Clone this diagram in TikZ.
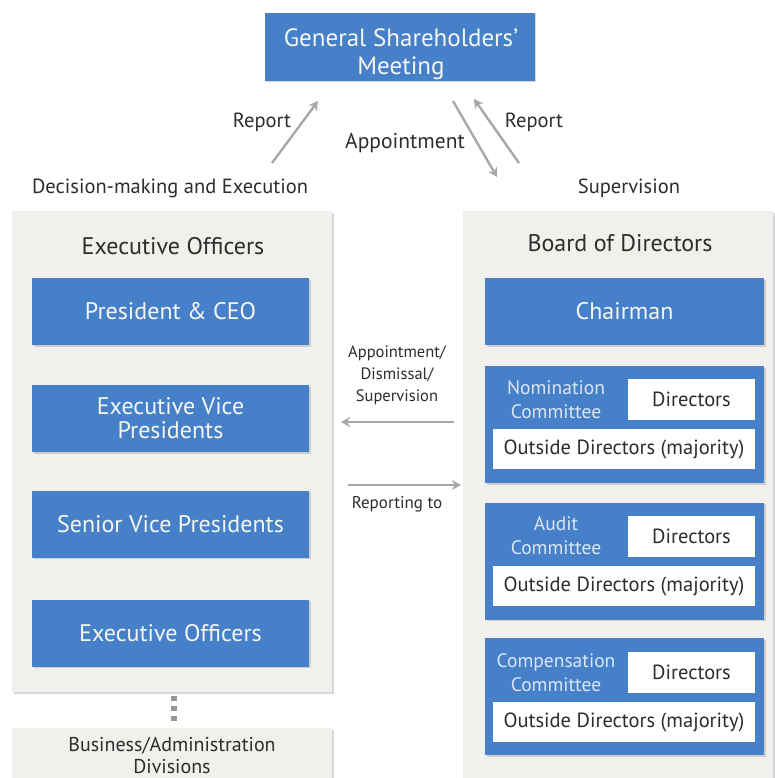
\documentclass[tikz,border=0pt]{standalone}
\usepackage{fontspec}
\setmainfont{PT Sans}
\usetikzlibrary{arrows.meta,shadows}
\definecolor{bluec}{RGB}{70,128,200}
\definecolor{panelc}{RGB}{242,240,236}
\definecolor{arrowc}{RGB}{168,168,168}
\definecolor{textc}{RGB}{45,45,45}
\definecolor{comtext}{RGB}{218,230,245}
\definecolor{boxtext}{RGB}{246,246,240}
\newcommand{\myfs}[2]{\fontsize{#1}{#2}\selectfont}
\begin{document}
\begin{tikzpicture}[x=1pt,y=-1pt,
  panel/.style={fill=panelc, draw=none, inner sep=0pt,
    drop shadow={shadow xshift=2pt, shadow yshift=-2pt, opacity=0.3, fill=black!50}},
  bluebox/.style={fill=bluec, draw=none, inner sep=0pt, text=boxtext, align=center,
    font=\myfs{24}{24},
    drop shadow={shadow xshift=1.5pt, shadow yshift=-1.5pt, opacity=0.3, fill=black!50}},
  whitebox/.style={fill=white, draw=none, inner sep=0pt, text=textc, align=center, font=\myfs{20.5}{22}},
  comlabel/.style={text=comtext, align=center, font=\myfs{19.5}{24}, inner sep=0pt},
  lbl/.style={text=textc, align=center, font=\myfs{20.5}{22}, inner sep=0pt},
  title/.style={text=textc, align=center, font=\myfs{24}{24}, inner sep=0pt},
  arr/.style={draw=arrowc, line width=2.4pt, -{Stealth[length=9pt,width=10pt]}},
  dots/.style={draw=arrowc!90!black, line width=6pt, dash pattern=on 5pt off 5pt}
]
\useasboundingbox (0,0) rectangle (775,778);
\fill[white] (0,0) rectangle (775,778);

% top
\node[bluebox, minimum width=270pt, minimum height=68pt] (gsm) at (399.5,47) {};
\node[text=boxtext, align=center, font=\myfs{25}{28}, inner sep=0pt] (gsmt) at (401,54) {General Shareholders'\\Meeting};

% panels
\node[panel, minimum width=320pt, minimum height=481pt] (lpanel) at (172,451.5) {};
\node[panel, minimum width=310pt, minimum height=580pt] (rpanel) at (618,501) {};
\node[panel, minimum width=320pt, minimum height=70pt] (bpanel) at (172,763) {};

\node[title] (lt) at (173,246) {Executive Officers};
\node[title] (rt) at (620,243) {Board of Directors};

\node[lbl] (dm) at (170,188) {Decision-making and Execution};
\node[lbl] (sup) at (629,188) {Supervision};

% left column
\node[bluebox, minimum width=277pt, minimum height=67pt] (pres) at (170.5,311.5) {President \& CEO};
\node[bluebox, minimum width=277pt, minimum height=67pt] (evp) at (170.5,418.5) {Executive Vice\\Presidents};
\node[bluebox, minimum width=277pt, minimum height=67pt] (svp) at (170.5,524) {Senior Vice Presidents};
\node[bluebox, minimum width=277pt, minimum height=67pt] (eo) at (170.5,633) {Executive Officers};

\node[lbl, font=\myfs{20}{22}] (bus) at (172,755.5) {Business/Administration\\Divisions};
\coordinate (d1) at (174,696);
\coordinate (d2) at (174,725);
\draw[dots] (d1) -- (d2);

% right column
\node[bluebox, minimum width=279pt, minimum height=67pt] (chair) at (624.5,311.5) {Chairman};

\node[bluebox, minimum width=279pt, minimum height=117pt] (nom) at (624.5,424.5) {};
\node[comlabel] (nomt) at (556,400) {Nomination\\Committee};
\node[whitebox, minimum width=127pt, minimum height=41pt] (nomd) at (691.5,399.5) {Directors};
\node[whitebox, minimum width=262pt, minimum height=40pt] (nomo) at (624,449) {Outside Directors (majority)};

\node[bluebox, minimum width=279pt, minimum height=117pt] (aud) at (624.5,561) {};
\node[comlabel] (audt) at (556,536) {Audit\\Committee};
\node[whitebox, minimum width=127pt, minimum height=41pt] (audd) at (691.5,536.5) {Directors};
\node[whitebox, minimum width=262pt, minimum height=40pt] (audo) at (624,586) {Outside Directors (majority)};

\node[bluebox, minimum width=279pt, minimum height=117pt] (comp) at (624.5,696.5) {};
\node[comlabel] (compt) at (556,672.5) {Compensation\\Committee};
\node[whitebox, minimum width=127pt, minimum height=41pt] (compd) at (691.5,672.5) {Directors};
\node[whitebox, minimum width=262pt, minimum height=40pt] (compo) at (624,722) {Outside Directors (majority)};

% top arrows
\coordinate (a1s) at (272,163); \coordinate (a1e) at (318,101);
\draw[arr] (a1s) -- (a1e);
\node[lbl] (rep1) at (262,122) {Report};
\coordinate (a2s) at (453,101); \coordinate (a2e) at (497,177);
\draw[arr] (a2s) -- (a2e);
\coordinate (a3s) at (519,163); \coordinate (a3e) at (474,99);
\draw[arr] (a3s) -- (a3e);
\node[lbl, font=\myfs{21.5}{22}] (app) at (405,143) {Appointment};
\node[lbl] (rep2) at (534,122) {Report};

% middle arrows
\node[lbl, font=\myfs{16.5}{22}] (ads) at (397,375) {Appointment/\\Dismissal/\\Supervision};
\coordinate (m1s) at (454,422); \coordinate (m1e) at (341,422);
\draw[arr] (m1s) -- (m1e);
\coordinate (m2s) at (348,485); \coordinate (m2e) at (461,485);
\draw[arr] (m2s) -- (m2e);
\node[lbl, font=\myfs{17}{22}] (rt2) at (397,504) {Reporting to};
\end{tikzpicture}
\end{document}
